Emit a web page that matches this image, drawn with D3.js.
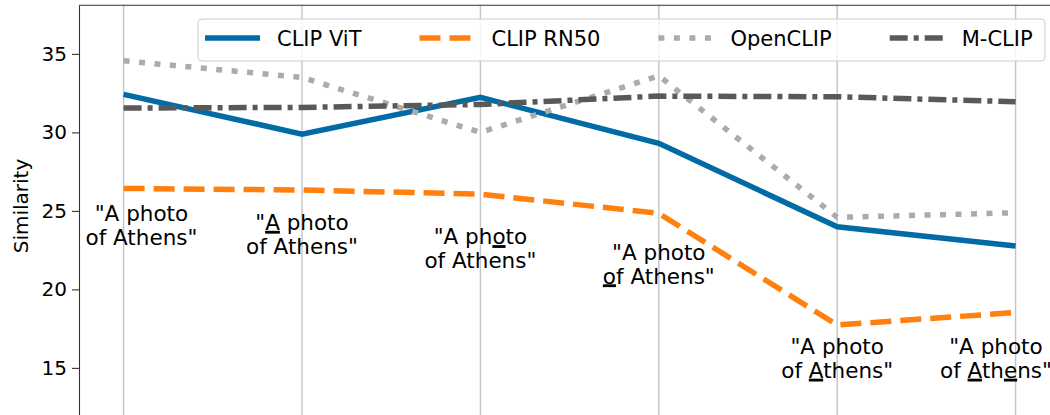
<!DOCTYPE html>
<html>
<head>
<meta charset="utf-8">
<script src="https://cdn.jsdelivr.net/npm/d3@7"></script>
<style>
body { margin: 0; background: #fff; }
svg { display: block; font-family: "DejaVu Sans", sans-serif; }
</style>
</head>
<body>
<div id="container"></div>
<script>
let w = 1050;
let h = 415;

// one x slot per prompt variant (which letters are underlined)
let variants = ["none", "A", "photo-o", "of-o", "Athens-A", "Athens-A-e"];
let seriesNames = ["CLIP ViT", "CLIP RN50", "OpenCLIP", "M-CLIP"];
let clipVit  = [32.42, 29.89, 32.23, 29.30, 23.99, 22.76];
let clipRn50 = [26.43, 26.33, 26.07, 24.84, 17.73, 18.53];
let openClip = [34.56, 33.50, 30.00, 33.60, 24.59, 24.88];
let mClip    = [31.55, 31.59, 31.78, 32.31, 32.27, 31.95];
let yTicks = [15, 20, 25, 30, 35];

// prompt annotations: two lines, underlined chars as [line, charIndex]
let labelLines = ['"A photo', 'of Athens"'];
let underlined = [[], [[0, 1]], [[0, 5]], [[1, 0]], [[1, 3]], [[1, 3], [1, 6]]];
let labelX = [0.1, 0, 0, 0, 0, -0.11];                  // x units
let labelY = [24.35, 23.78, 22.87, 21.87, 15.86, 15.86]; // similarity units (first baseline)

let series = [
  {name: seriesNames[0], values: clipVit,  color: "#006BA4", dash: null},
  {name: seriesNames[1], values: clipRn50, color: "#FF800E", dash: "21,9"},
  {name: seriesNames[2], values: openClip, color: "#ABABAB", dash: "6,9.5"},
  {name: seriesNames[3], values: mClip,    color: "#595959", dash: "18,6,5,6"}
];

let viz = d3.select("#container").append("svg")
    .attr("width", w)
    .attr("height", h)
;

let x = d3.scaleLinear().domain([-0.25, 5.25]).range([79, 1060.2]);
let y = d3.scaleLinear().domain([12, 38.1]).range([415, 5.2]);

// vertical grid
viz.selectAll(".grid").data(variants).enter()
  .append("line")
    .attr("x1", (d, i) => x(i))
    .attr("x2", (d, i) => x(i))
    .attr("y1", y(38.1))
    .attr("y2", h)
    .attr("stroke", "#b0b0b0")
    .attr("stroke-opacity", 0.75)
    .attr("stroke-width", 1.4)
;

// top spine
viz.append("line")
    .attr("x1", x(-0.25)).attr("x2", w)
    .attr("y1", y(38.1)).attr("y2", y(38.1))
    .attr("stroke", "#333").attr("stroke-width", 1.1);

let yAxis = viz.append("g")
    .attr("transform", "translate(" + x(-0.25) + ",0)")
    .call(d3.axisLeft(y).tickValues(yTicks).tickSize(7).tickSizeOuter(0).tickPadding(5));
yAxis.select(".domain").attr("stroke", "#333").attr("stroke-width", 1.1);
yAxis.selectAll(".tick line").attr("stroke", "#333").attr("stroke-width", 1.1);
yAxis.selectAll(".tick text")
    .attr("font-size", 20)
    .attr("font-family", "DejaVu Sans")
    .attr("fill", "#000");

viz.append("text")
    .attr("transform", "translate(28,206) rotate(-90)")
    .attr("text-anchor", "middle")
    .attr("font-size", 20)
    .text("Similarity");

// prompt annotations
let lineGap = 23.5;
variants.forEach(function(v, i){
  labelLines.forEach(function(str, li){
    let bx = x(i + labelX[i]);
    let by = y(labelY[i]) + li * lineGap;
    let t = viz.append("text")
        .attr("x", bx)
        .attr("y", by)
        .attr("text-anchor", "middle")
        .attr("font-size", 21.5)
        .attr("fill", "#000")
        .text(str);
    underlined[i].filter(u => u[0] == li).forEach(function(u){
      let ext = t.node().getExtentOfChar(u[1]);
      viz.append("rect")
          .attr("x", ext.x)
          .attr("y", by + 0.8)
          .attr("width", ext.width)
          .attr("height", 2.8)
          .attr("fill", "#000");
    });
  });
});

let lineMaker = d3.line()
    .x((d, i) => x(i))
    .y(d => y(d));

viz.selectAll(".series").data(series).enter()
  .append("path")
    .attr("d", d => lineMaker(d.values))
    .attr("fill", "none")
    .attr("stroke", d => d.color)
    .attr("stroke-width", 5.5)
    .attr("stroke-dasharray", d => d.dash)
;

// legend
let legend = viz.append("g");
legend.append("rect")
    .attr("x", 198).attr("y", 19)
    .attr("width", 847).attr("height", 42)
    .attr("rx", 4)
    .attr("fill", "#fff").attr("fill-opacity", 0.8)
    .attr("stroke", "#ccc").attr("stroke-width", 1);

let cursor = 205;
series.forEach(function(s){
  legend.append("line")
      .attr("x1", cursor).attr("x2", cursor + 55)
      .attr("y1", 38).attr("y2", 38)
      .attr("stroke", s.color)
      .attr("stroke-width", 5.5)
      .attr("stroke-dasharray", s.dash);
  let t = legend.append("text")
      .attr("x", cursor + 72)
      .attr("y", 45.5)
      .attr("font-size", 21)
      .attr("fill", "#000")
      .text(s.name);
  cursor += 72 + t.node().getComputedTextLength() + 58;
});
</script>
</body>
</html>
